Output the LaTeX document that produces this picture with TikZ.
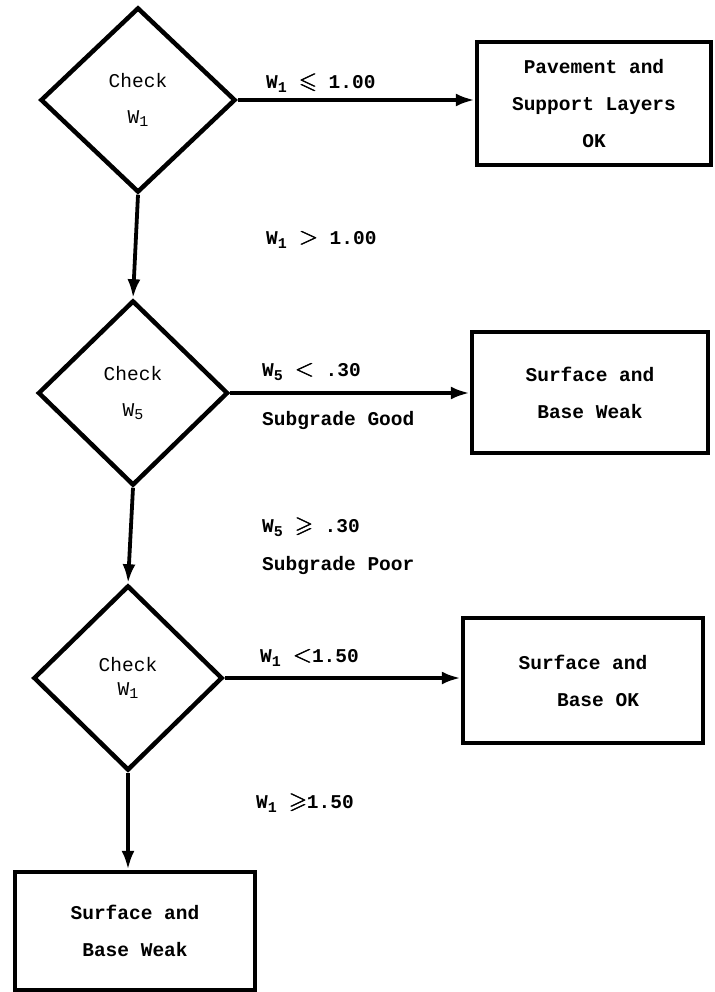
\documentclass[tikz,border=0pt]{standalone}
\usepackage{amssymb}
\usepackage{fontspec}
\setmonofont{Liberation Mono}
\usetikzlibrary{arrows.meta,shapes.geometric}
\tikzset{
  dec/.style={draw, line width=4.5pt, shape=diamond, inner sep=0pt, align=center,
    font=\ttfamily\fontsize{19.5}{22}\selectfont},
  outbox/.style={draw, line width=4.5pt, rectangle, inner sep=0pt, align=center,
    font=\ttfamily\bfseries\fontsize{19.5}{37}\selectfont},
  cond/.style={anchor=west, inner sep=0pt, font=\ttfamily\bfseries\fontsize{19.5}{22}\selectfont},
  flow/.style={line width=3.8pt, -{Latex[length=19pt,width=13pt]}}
}
\newcommand{\Wsub}[1]{W\raisebox{-0.35ex}{\fontsize{15}{15}\selectfont #1}}
\newcommand{\bsym}[1]{\mbox{\fontsize{23}{23}\selectfont\rlap{$#1$}\hspace{0.9pt}\rlap{$#1$}\hspace{-0.45pt}$#1$}}
\begin{document}
\begin{tikzpicture}[x=1pt,y=-1pt]
\useasboundingbox (0,0) rectangle (714,992);
% decisions
\node[dec, minimum width=195pt, minimum height=185pt] (d1) at (138,100) {Check\\[14pt]\Wsub{1}};
\node[dec, minimum width=190pt, minimum height=185pt] (d2) at (133,393) {Check\\[14pt]\Wsub{5}};
\node[dec, minimum width=189pt, minimum height=185pt] (d3) at (128,678) {Check\\[2pt]\Wsub{1}};
% outcome boxes
\node[outbox, minimum width=234pt, minimum height=123pt] (b1) at (594,103.5) {Pavement and\\Support Layers\\OK};
\node[outbox, minimum width=236pt, minimum height=121pt] (b2) at (590,392.5) {Surface and\\Base Weak};
\node[outbox, minimum width=240pt, minimum height=125pt] (b3) at (583,680.5) {Surface and\\\hspace*{30pt}Base OK};
\node[outbox, minimum width=240pt, minimum height=118pt] (b4) at (135,931) {Surface and\\Base Weak};
% connectors
\draw[flow] (d1.east) -- (d1.east -| b1.west);
\draw[flow] (d2.east) -- (d2.east -| b2.west);
\draw[flow] (d3.east) -- (d3.east -| b3.west);
\draw[flow] (d1.south) -- (d2.north);
\draw[flow] (d2.south) -- (d3.north);
\draw[flow] (d3.south) -- (d3.south |- b4.north);
% condition labels
\node[cond] (l1) at (266,83) {\Wsub{1} \bsym{\leqslant} 1.00};
\node[cond] (l2) at (266,240) {\Wsub{1} \bsym{>} 1.00};
\node[cond] (l3) at (262,372) {\Wsub{5} \bsym{<} .30};
\node[cond] (l4) at (262,420) {Subgrade Good};
\node[cond] (l5) at (262,527) {\Wsub{5} \bsym{\geqslant} .30};
\node[cond] (l6) at (262,565) {Subgrade Poor};
\node[cond] (l7) at (260,658) {\Wsub{1} \bsym{<}1.50};
\node[cond] (l8) at (256,803) {\Wsub{1} \bsym{\geqslant}1.50};
\end{tikzpicture}
\end{document}
